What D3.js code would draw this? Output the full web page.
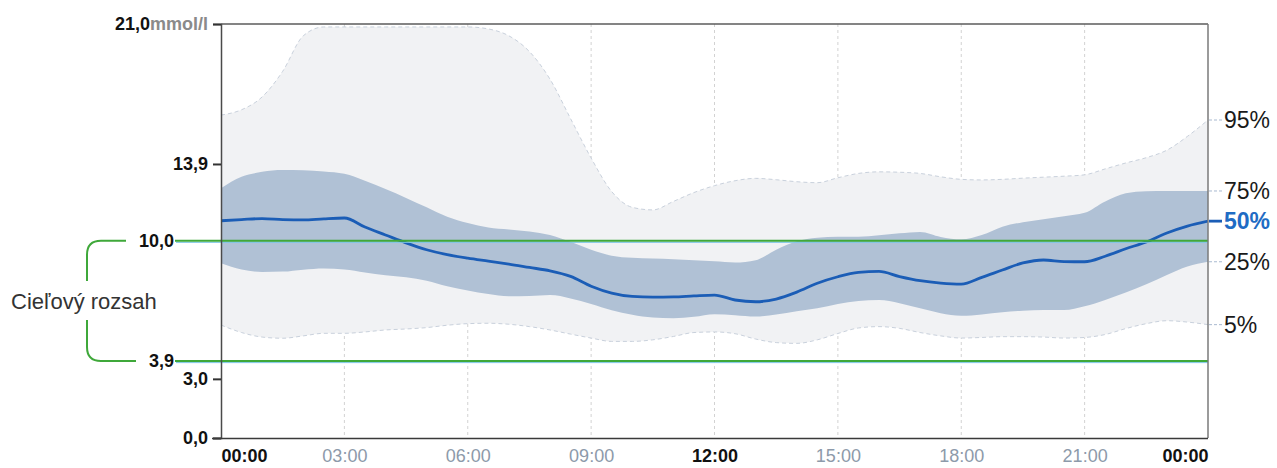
<!DOCTYPE html>
<html>
<head>
<meta charset="utf-8">
<script src="https://cdn.jsdelivr.net/npm/d3@7"></script>
<style>
  html, body { margin: 0; padding: 0; background: #fff; }
  svg { display: block; }
  text { font-family: "Liberation Sans", Arial, sans-serif; }
</style>
</head>
<body>
<svg id="agp" width="1277" height="468"></svg>
<script>
// Hours of the day (half-hour steps)
const hours = d3.range(0, 24.5, 0.5);

// Glucose percentiles, mmol/l
const p95 = [16.38, 16.65, 17.3, 18.6, 20.4, 20.85, 20.85, 20.85, 20.85, 20.85, 20.85, 20.85, 20.85, 20.75, 20.4, 19.6,
             18.2, 16.2, 14.2, 12.5, 11.7, 11.57, 12.0, 12.45, 12.8, 13.05, 13.17, 13.1, 13.0, 12.95, 13.2, 13.42,
             13.5, 13.48, 13.42, 13.25, 13.12, 13.09, 13.12, 13.18, 13.23, 13.28, 13.35, 13.65, 13.95, 14.22, 14.6, 15.3, 16.13];
const p75 = [12.67, 13.25, 13.5, 13.59, 13.58, 13.52, 13.4, 13.05, 12.63, 12.18, 11.7, 11.22, 10.9, 10.68, 10.58, 10.48,
             10.3, 9.95, 9.55, 9.25, 9.14, 9.1, 9.07, 9.02, 8.96, 8.9, 9.02, 9.55, 9.98, 10.16, 10.21, 10.21,
             10.28, 10.38, 10.45, 10.2, 10.08, 10.3, 10.72, 10.95, 11.1, 11.25, 11.42, 12.0, 12.42, 12.52, 12.53, 12.53, 12.53];
const p50 = [11.02, 11.08, 11.13, 11.08, 11.06, 11.12, 11.16, 10.7, 10.3, 9.9, 9.55, 9.3, 9.12, 8.97, 8.82, 8.65,
             8.48, 8.2, 7.7, 7.35, 7.18, 7.15, 7.16, 7.21, 7.25, 7.0, 6.91, 7.05, 7.4, 7.85, 8.18, 8.4,
             8.45, 8.19, 7.98, 7.86, 7.81, 8.15, 8.52, 8.88, 9.03, 8.95, 8.94, 9.22, 9.6, 9.95, 10.4, 10.75, 11.0];
const p25 = [8.86, 8.55, 8.42, 8.44, 8.54, 8.6, 8.55, 8.4, 8.26, 8.16, 7.98, 7.7, 7.48, 7.3, 7.19, 7.2,
             7.25, 7.08, 6.8, 6.48, 6.25, 6.11, 6.08, 6.15, 6.28, 6.23, 6.16, 6.27, 6.43, 6.58, 6.8, 6.95,
             7.0, 6.84, 6.58, 6.33, 6.2, 6.27, 6.38, 6.46, 6.49, 6.49, 6.68, 7.0, 7.38, 7.8, 8.27, 8.7, 8.94];
const p05 = [5.73, 5.35, 5.12, 5.06, 5.18, 5.31, 5.31, 5.38, 5.48, 5.53, 5.6, 5.72, 5.8, 5.82, 5.77, 5.65,
             5.48, 5.27, 5.07, 4.9, 4.9, 4.98, 5.15, 5.35, 5.38, 5.29, 5.02, 4.84, 4.8, 4.98, 5.3, 5.58,
             5.65, 5.56, 5.35, 5.18, 5.07, 5.1, 5.14, 5.14, 5.12, 5.07, 5.1, 5.25, 5.55, 5.8, 5.95, 5.88, 5.75];

// Axis ticks
const yTicks = [0, 3.0, 3.9, 10.0, 13.9, 21.0];
const yTickLabels = ["0,0", "3,0", "3,9", "10,0", "13,9", "21,0"];
const yUnit = "mmol/l";
const xTicks = [0, 3, 6, 9, 12, 15, 18, 21, 24];
const xTickLabels = ["00:00", "03:00", "06:00", "09:00", "12:00", "15:00", "18:00", "21:00", "00:00"];
const xMajorTicks = [0, 12, 24];

// Target range
const targetRange = [3.9, 10.0];
const targetLabel = "Cieľový rozsah";

// Percentile labels on the right
const pctLabels = ["95%", "75%", "50%", "25%", "5%"];
const pctSeries = [p95, p75, p50, p25, p05];

const svg = d3.select("#agp");
const pLeft = 221, pRight = 1208, pTop = 24, pBottom = 438;

const x = d3.scaleLinear().domain([0, 24]).range([pLeft, pRight]);
const y = d3.scaleLinear().domain([0, 21]).range([pBottom, pTop]);

const rows = hours.map((h, i) => ({ h, p95: p95[i], p75: p75[i], p50: p50[i], p25: p25[i], p05: p05[i] }));

svg.append("defs").append("clipPath").attr("id", "plot")
  .append("rect").attr("x", pLeft).attr("y", pTop).attr("width", pRight - pLeft).attr("height", pBottom - pTop);

// Vertical dashed grid every 3 hours
svg.append("g").selectAll("line").data(xTicks.slice(1, -1)).join("line")
  .attr("x1", d => x(d)).attr("x2", d => x(d))
  .attr("y1", pTop).attr("y2", pBottom)
  .attr("stroke", "#d2d2d2").attr("stroke-width", 1).attr("stroke-dasharray", "3,3");

const plot = svg.append("g").attr("clip-path", "url(#plot)");
const curve = d3.curveMonotoneX;

// 5–95 % band
plot.append("path").datum(rows)
  .attr("d", d3.area().curve(curve).x(d => x(d.h)).y0(d => y(d.p05)).y1(d => y(d.p95)))
  .attr("fill", "#f1f2f4");
["p95", "p05"].forEach(k => {
  plot.append("path").datum(rows)
    .attr("d", d3.line().curve(curve).x(d => x(d.h)).y(d => y(d[k])))
    .attr("fill", "none").attr("stroke", "#c9d1dc").attr("stroke-width", 1)
    .attr("stroke-dasharray", "4,3");
});

// 25–75 % band
plot.append("path").datum(rows)
  .attr("d", d3.area().curve(curve).x(d => x(d.h)).y0(d => y(d.p25)).y1(d => y(d.p75)))
  .attr("fill", "#b0c1d5");

// Target range lines (with their left-hand extension to the labels)
targetRange.forEach(v => {
  svg.append("line").attr("x1", 176).attr("x2", pRight)
    .attr("y1", y(v) + 1.5).attr("y2", y(v) + 1.5)
    .attr("stroke", "#7cc6e6").attr("stroke-width", 1);
  svg.append("line").attr("x1", 175).attr("x2", pRight)
    .attr("y1", y(v)).attr("y2", y(v))
    .attr("stroke", "#3fa83a").attr("stroke-width", 2);
});

// Median
plot.append("path").datum(rows)
  .attr("d", d3.line().curve(curve).x(d => x(d.h)).y(d => y(d.p50)))
  .attr("fill", "none").attr("stroke", "#1b5db6").attr("stroke-width", 2.8);

// Frame
const frame = svg.append("g").attr("stroke", "#5b5b5b").attr("stroke-width", 1.5);
frame.append("line").attr("x1", pLeft).attr("x2", pRight).attr("y1", pTop).attr("y2", pTop);
frame.append("line").attr("x1", pRight).attr("x2", pRight).attr("y1", pTop).attr("y2", pBottom).attr("stroke", "#7a7a7a");

// Y axis
const yAxis = svg.append("g").attr("transform", `translate(${pLeft},0)`)
  .call(d3.axisLeft(y).tickValues(yTicks).tickSize(8).tickPadding(5)
    .tickFormat((d, i) => yTickLabels[i]));
yAxis.select(".domain").attr("stroke", "#4a4a4a").attr("stroke-width", 1.5);
yAxis.selectAll(".tick line").attr("stroke", "#333").attr("stroke-width", 2)
  .attr("display", d => targetRange.includes(d) ? "none" : null);
yAxis.selectAll(".tick text")
  .attr("fill", "#111").attr("font-size", 18).attr("font-weight", "bold")
  .attr("font-family", "'Liberation Sans', Arial, sans-serif")
  .attr("x", d => targetRange.includes(d) ? -47 : -13);
yAxis.selectAll(".tick").filter(d => d === 21).select("text")
  .text(null)
  .call(t => {
    t.append("tspan").text("21,0");
    t.append("tspan").attr("fill", "#8a8a8a").text(yUnit);
  });

// X axis
const xAxis = svg.append("g").attr("transform", `translate(0,${pBottom})`)
  .call(d3.axisBottom(x).tickValues(xTicks).tickSize(0).tickPadding(11)
    .tickFormat((d, i) => xTickLabels[i]));
xAxis.select(".domain").attr("stroke", "#3a3a3a").attr("stroke-width", 1.5)
  .attr("d", `M${pLeft - 9},0.5H${pRight}`);
xAxis.selectAll(".tick text")
  .attr("font-size", 18)
  .attr("font-family", "'Liberation Sans', Arial, sans-serif")
  .attr("font-weight", d => xMajorTicks.includes(d) ? "bold" : "normal")
  .attr("fill", d => xMajorTicks.includes(d) ? "#111" : "#8d9aaa")
  .attr("text-anchor", d => d === 0 ? "start" : d === 24 ? "end" : "middle");

// Target range bracket
const bracket = svg.append("g").attr("fill", "none").attr("stroke", "#3fa83a").attr("stroke-width", 2);
const yt = y(targetRange[1]), yb = y(targetRange[0]);
bracket.append("path").attr("d", `M126,${yt}H101Q87,${yt} 87,${yt + 14}V281`);
bracket.append("path").attr("d", `M87,320V${yb - 14}Q87,${yb} 101,${yb}H136`);
svg.append("text").attr("x", 11).attr("y", 301).attr("dy", "0.35em")
  .attr("font-size", 22).attr("fill", "#333").text(targetLabel);

// Percentile labels at the right end
const lastIdx = hours.length - 1;
const pg = svg.append("g");
pctLabels.forEach((lab, i) => {
  const yy = y(pctSeries[i][lastIdx]);
  const isMedian = lab === "50%";
  pg.append("line").attr("x1", pRight + 1).attr("x2", pRight + 14).attr("y1", yy).attr("y2", yy)
    .attr("stroke", isMedian ? "#1b5db6" : "#a9bad0")
    .attr("stroke-width", isMedian ? 2.8 : 1)
    .attr("stroke-dasharray", isMedian ? null : "3,2");
  pg.append("text").attr("x", pRight + 16).attr("y", yy).attr("dy", "0.36em")
    .attr("font-size", 23)
    .attr("font-weight", isMedian ? "bold" : "normal")
    .attr("fill", isMedian ? "#1f6cc4" : "#1a1a1a")
    .text(lab);
});
</script>
</body>
</html>
